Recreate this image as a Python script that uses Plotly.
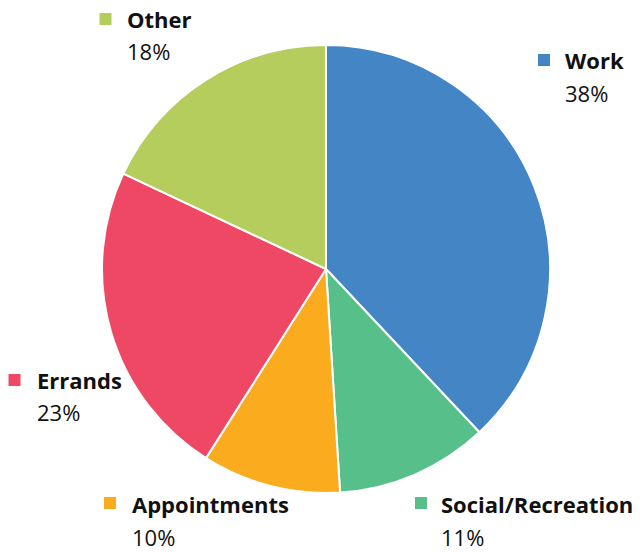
import plotly.graph_objects as go

W, H = 640, 552

categories = ["Work", "Social/Recreation", "Appointments", "Errands", "Other"]
values = [38, 11, 10, 23, 18]
colors = ["#4485C5", "#57BF8A", "#FAAB1E", "#EE4865", "#B5CD5C"]

# label block positions in pixels: (square center x, square center y, text x, name y, pct y)
label_pos = {
    "Work": (544, 60, 563, 60, 93),
    "Social/Recreation": (421, 503, 439, 504, 537),
    "Appointments": (110, 503, 130, 504, 537),
    "Errands": (14.5, 380, 35, 380, 412),
    "Other": (105.5, 19, 125, 19, 51),
}

cx, cy, r = 326, 269, 224

fig = go.Figure(
    go.Pie(
        labels=categories,
        values=values,
        sort=False,
        direction="clockwise",
        rotation=0,
        textinfo="none",
        marker=dict(colors=colors, line=dict(color="white", width=2)),
        domain=dict(x=[(cx - r) / W, (cx + r) / W], y=[1 - (cy + r) / H, 1 - (cy - r) / H]),
        hoverinfo="label+percent",
    )
)

total = sum(values)
font = dict(family="Open Sans, Lato, sans-serif", size=22, color="#111111")
for cat, val, col in zip(categories, values, colors):
    sx, sy, tx, ny, py = label_pos[cat]
    s = 6
    fig.add_shape(
        type="rect", xref="paper", yref="paper",
        x0=(sx - s) / W, x1=(sx + s) / W, y0=1 - (sy + s) / H, y1=1 - (sy - s) / H,
        fillcolor=col, line=dict(width=0),
    )
    fig.add_annotation(
        x=tx / W, y=1 - ny / H, xref="paper", yref="paper",
        text=f"<b>{cat}</b>", showarrow=False, xanchor="left", yanchor="middle", font=font,
    )
    fig.add_annotation(
        x=tx / W, y=1 - py / H, xref="paper", yref="paper",
        text=f"{round(val / total * 100)}%", showarrow=False, xanchor="left", yanchor="middle", font=font,
    )

fig.update_layout(
    width=W,
    height=H,
    margin=dict(t=0, b=0, l=0, r=0),
    showlegend=False,
    paper_bgcolor="white",
    plot_bgcolor="white",
)

# drop the default 8px page margin so the figure sits at the window's corner
fig.write_html(
    "out.html",
    config={"displayModeBar": False},
    post_script="document.body.style.margin = '0';",
)
